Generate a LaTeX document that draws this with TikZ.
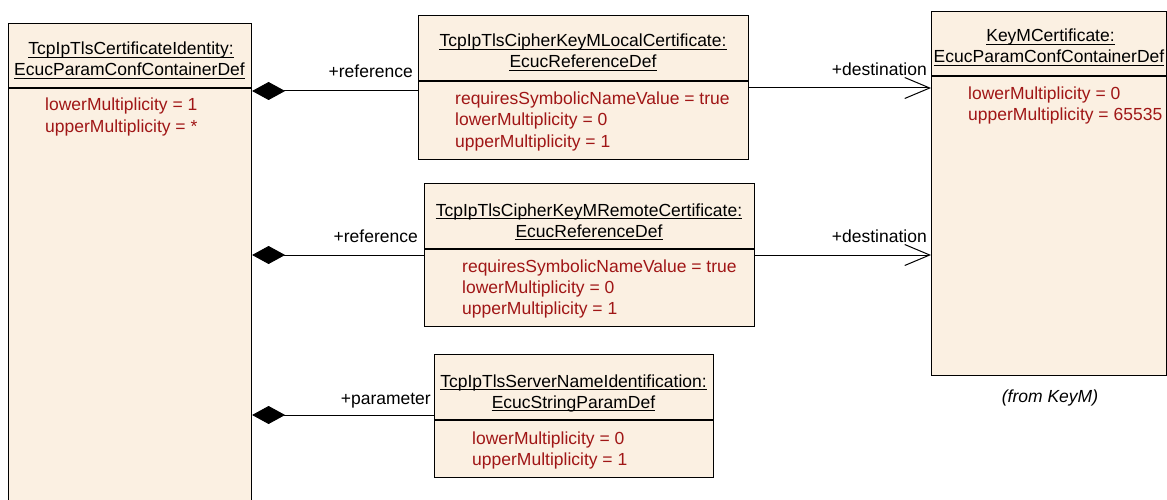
\documentclass[tikz,border=0pt]{standalone}
\usepackage{fontspec}
\setmainfont{Liberation Sans}
\usetikzlibrary{arrows.meta}
\definecolor{boxfill}{RGB}{251,240,226}
\definecolor{attrred}{RGB}{160,22,22}
\tikzset{
  umlbox/.style={draw=black, line width=1.1pt, fill=boxfill, anchor=north west, inner sep=0pt},
  divline/.style={draw=black, line width=1.1pt},
  ttl/.style={anchor=base, inner sep=0pt, font=\fontsize{17.5}{20}\selectfont},
  ul/.style={draw=black, line width=1pt},
  attr/.style={anchor=base west, inner sep=0pt, text=attrred, font=\fontsize{17.5}{20}\selectfont},
  lbl/.style={anchor=base east, inner sep=0pt, font=\fontsize{17.5}{20}\selectfont},
  comp/.style={line width=1pt, {Diamond[length=33pt,width=18pt]}-},
  dest/.style={line width=1pt, -{Straight Barb[length=25pt,width=21pt,line width=1pt]}}
}
\begin{document}
\begin{tikzpicture}[x=1pt,y=-1pt]
\useasboundingbox (0,0) rectangle (1167,500);
% left container
\node[umlbox, minimum width=243pt, minimum height=490pt] (lb) at (8,23) {};
\draw[divline] (lb.west |- 0,88) -- (lb.east |- 0,88);
\node[ttl] (lbt1) at (131,55) {TcpIpTlsCertificateIdentity:\hspace{4pt}};
\node[ttl] (lbt2) at (129.5,75.5) {EcucParamConfContainerDef};
\node[attr] (lba1) at (45,111) {lowerMultiplicity = 1};
\node[attr] (lba2) at (45,132) {upperMultiplicity = *};
% local certificate
\node[umlbox, minimum width=330pt, minimum height=144pt] (b1) at (418,15) {};
\draw[divline] (b1.west |- 0,81) -- (b1.east |- 0,81);
\node[ttl] (b1t1) at (583,47) {TcpIpTlsCipherKeyMLocalCertificate:};
\node[ttl] (b1t2) at (583,68) {EcucReferenceDef};
\node[attr] (b1a1) at (455,105) {requiresSymbolicNameValue = true};
\node[attr] (b1a2) at (455,126) {lowerMultiplicity = 0};
\node[attr] (b1a3) at (455,147) {upperMultiplicity = 1};
% remote certificate
\node[umlbox, minimum width=330pt, minimum height=143pt] (b2) at (424,183) {};
\draw[divline] (b2.west |- 0,249) -- (b2.east |- 0,249);
\node[ttl] (b2t1) at (589,216) {TcpIpTlsCipherKeyMRemoteCertificate:};
\node[ttl] (b2t2) at (589,237) {EcucReferenceDef};
\node[attr] (b2a1) at (462,272) {requiresSymbolicNameValue = true};
\node[attr] (b2a2) at (462,293) {lowerMultiplicity = 0};
\node[attr] (b2a3) at (462,314) {upperMultiplicity = 1};
% server name identification
\node[umlbox, minimum width=279pt, minimum height=123pt] (b3) at (434,354) {};
\draw[divline] (b3.west |- 0,420) -- (b3.east |- 0,420);
\node[ttl] (b3t1) at (573.5,387) {TcpIpTlsServerNameIdentification:};
\node[ttl] (b3t2) at (573.5,408) {EcucStringParamDef};
\node[attr] (b3a1) at (472,444) {lowerMultiplicity = 0};
\node[attr] (b3a2) at (472,465) {upperMultiplicity = 1};
% KeyM certificate
\node[umlbox, minimum width=234.5pt, minimum height=364pt] (km) at (931,11) {};
\draw[divline] (km.west |- 0,76) -- (km.east |- 0,76);
\node[ttl] (kmt1) at (1050.5,42) {KeyMCertificate:\hspace{4pt}};
\node[ttl] (kmt2) at (1049,63) {EcucParamConfContainerDef};
\node[attr] (kma1) at (968,100) {lowerMultiplicity = 0};
\node[attr] (kma2) at (968,121) {upperMultiplicity = 65535};
\node[ttl, font=\fontsize{17.5}{20}\selectfont\itshape] (from) at (1050,402) {(from KeyM)};
% title underlines
\foreach \t in {lbt1,lbt2,b1t1,b1t2,b2t1,b2t2,b3t1,b3t2,kmt1,kmt2}
  \draw[ul] ([yshift=-2.8pt]\t.base west) -- ([yshift=-2.8pt]\t.base east);
% connectors
\draw[comp] (lb.east |- 0,91) -- (b1.west |- 0,91);
\draw[comp] (lb.east |- 0,255) -- (b2.west |- 0,255);
\draw[comp] (lb.east |- 0,415) -- (b3.west |- 0,415);
\draw[dest] (b1.east |- 0,88) -- (km.west |- 0,88);
\draw[dest] (b2.east |- 0,255) -- (km.west |- 0,255);
% role labels
\node[lbl] (r1) at (413,78) {+reference};
\node[lbl] (r2) at (418,242) {+reference};
\node[lbl] (r3) at (431,404) {+parameter};
\node[lbl] (d1) at (927,76) {+destination};
\node[lbl] (d2) at (927,242) {+destination};
\end{tikzpicture}
\end{document}
